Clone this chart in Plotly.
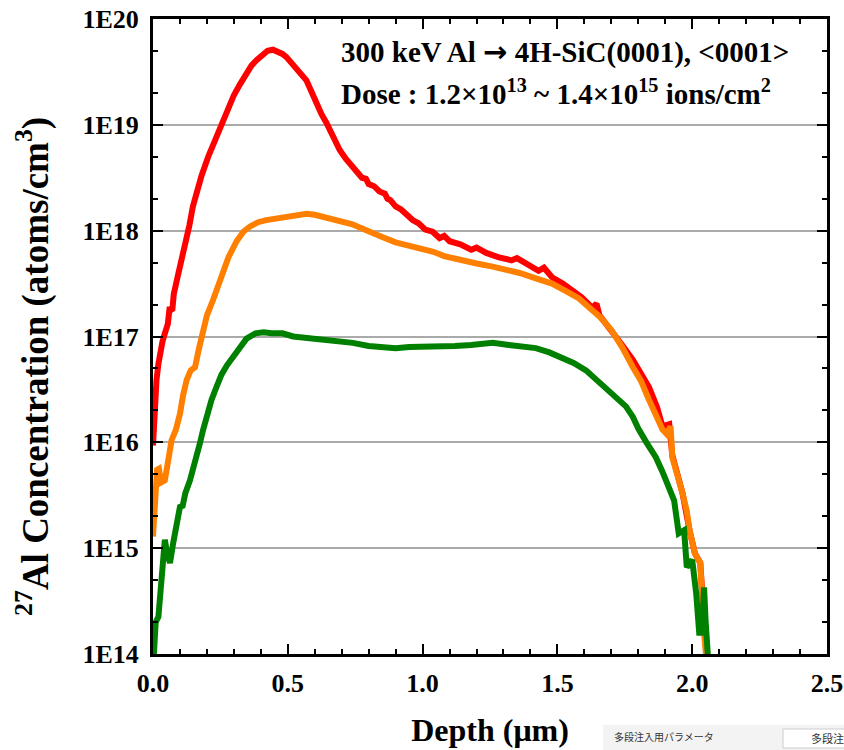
import plotly.graph_objects as go

# ---------------- data (depth in um, log10 concentration) ----------------
red_x = [0.000, 0.006, 0.013, 0.020, 0.026, 0.035, 0.044, 0.055, 0.062, 0.066, 0.072, 0.077, 0.090, 0.100,
         0.112, 0.125, 0.135, 0.148, 0.165, 0.180, 0.205, 0.230, 0.254, 0.280, 0.300, 0.322, 0.345,
         0.365, 0.384, 0.405, 0.425, 0.445, 0.465, 0.480, 0.495, 0.515, 0.535, 0.550, 0.569, 0.590,
         0.606, 0.625, 0.643, 0.665, 0.693, 0.715, 0.735, 0.754, 0.775, 0.790, 0.800, 0.820, 0.840, 0.860,
         0.870, 0.880, 0.900, 0.920, 0.940, 0.963, 0.985, 1.010, 1.037, 1.063, 1.080, 1.100, 1.140, 1.180,
         1.200, 1.236, 1.280, 1.330, 1.350, 1.384, 1.430, 1.450, 1.480, 1.520, 1.556, 1.590, 1.630, 1.645,
         1.656, 1.700, 1.740, 1.780, 1.810, 1.840, 1.870, 1.890, 1.915, 1.926, 1.945, 1.964, 1.990, 2.010,
         2.030, 2.044, 2.055]
red_log = [15.97, 16.35, 16.59, 16.74, 16.84, 16.95, 17.03, 17.12, 17.28, 17.25, 17.26, 17.40, 17.55, 17.65,
           17.79, 17.93, 18.05, 18.23, 18.40, 18.52, 18.70, 18.86, 19.00, 19.17, 19.28, 19.38, 19.48,
           19.56, 19.61, 19.66, 19.70, 19.71, 19.69, 19.67, 19.64, 19.58, 19.52, 19.48, 19.42, 19.30,
           19.20, 19.10, 19.02, 18.90, 18.76, 18.68, 18.62, 18.57, 18.50, 18.49, 18.44, 18.42, 18.37, 18.35,
           18.30, 18.29, 18.23, 18.20, 18.15, 18.10, 18.07, 18.01, 17.99, 17.93, 17.95, 17.90, 17.87, 17.82,
           17.84, 17.79, 17.75, 17.72, 17.74, 17.69, 17.62, 17.65, 17.56, 17.50, 17.44, 17.37, 17.27, 17.31,
           17.20, 17.06, 16.92, 16.78, 16.66, 16.52, 16.33, 16.15, 16.17, 15.88, 15.70, 15.52, 15.17, 14.95,
           14.86, 14.30, 13.90]

orange_x = [0.000, 0.007, 0.015, 0.022, 0.030, 0.044, 0.055, 0.069, 0.085, 0.100, 0.112, 0.125, 0.140,
            0.156, 0.170, 0.180, 0.200, 0.222, 0.250, 0.280, 0.310, 0.335, 0.360, 0.390, 0.420, 0.450,
            0.480, 0.510, 0.540, 0.570, 0.600, 0.630, 0.660, 0.700, 0.740, 0.767, 0.800, 0.850, 0.900,
            0.950, 1.000, 1.040, 1.080, 1.137, 1.200, 1.260, 1.300, 1.360, 1.420, 1.480, 1.530, 1.580,
            1.620, 1.656, 1.700, 1.740, 1.780, 1.810, 1.840, 1.865, 1.890, 1.905, 1.920, 1.926, 1.945,
            1.964, 1.980, 1.990, 2.010, 2.030, 2.044, 2.058]
orange_log = [15.11, 15.39, 15.74, 15.75, 15.62, 15.64, 15.80, 16.02, 16.12, 16.27, 16.45, 16.59, 16.68,
              16.71, 16.88, 17.00, 17.20, 17.34, 17.55, 17.75, 17.90, 17.99, 18.04, 18.08, 18.10, 18.11,
              18.13, 18.14, 18.15, 18.16, 18.15, 18.13, 18.12, 18.09, 18.06, 18.03, 17.99, 17.94, 17.89,
              17.86, 17.83, 17.80, 17.76, 17.72, 17.69, 17.66, 17.64, 17.60, 17.55, 17.50, 17.43, 17.36,
              17.27, 17.19, 17.06, 16.90, 16.71, 16.58, 16.40, 16.25, 16.12, 16.08, 16.15, 15.86, 15.70,
              15.52, 15.35, 15.17, 14.95, 14.86, 14.20, 13.80]

green_x = [0.000, 0.010, 0.020, 0.030, 0.038, 0.044, 0.052, 0.063, 0.075, 0.090, 0.100, 0.110, 0.120,
           0.137, 0.150, 0.165, 0.174, 0.186, 0.200, 0.217, 0.235, 0.254, 0.275, 0.297, 0.320, 0.347,
           0.380, 0.410, 0.440, 0.480, 0.520, 0.560, 0.593, 0.640, 0.690, 0.741, 0.800, 0.850, 0.900,
           0.950, 0.989, 1.050, 1.120, 1.180, 1.260, 1.320, 1.380, 1.420, 1.470, 1.510, 1.560, 1.606,
           1.640, 1.667, 1.700, 1.730, 1.754, 1.780, 1.800, 1.830, 1.865, 1.890, 1.908, 1.933, 1.950,
           1.970, 1.980, 2.000, 2.015, 2.026, 2.036, 2.044, 2.050, 2.063]
green_log = [13.85, 14.30, 14.35, 14.70, 15.00, 15.08, 14.95, 14.86, 15.05, 15.30, 15.39, 15.40, 15.52,
             15.64, 15.75, 15.92, 15.99, 16.12, 16.25, 16.40, 16.52, 16.64, 16.73, 16.81, 16.90, 16.98,
             17.03, 17.04, 17.03, 17.03, 17.00, 16.99, 16.98, 16.96, 16.95, 16.94, 16.91, 16.90, 16.89,
             16.90, 16.90, 16.90, 16.91, 16.92, 16.94, 16.92, 16.91, 16.89, 16.85, 16.81, 16.75, 16.68,
             16.60, 16.55, 16.47, 16.40, 16.34, 16.24, 16.13, 16.00, 15.86, 15.72, 15.59, 15.45, 15.14,
             15.17, 14.82, 14.89, 14.57, 14.20, 14.20, 14.63, 14.30, 13.80]

y_tick_vals = [1e14, 1e15, 1e16, 1e17, 1e18, 1e19, 1e20]
y_tick_text = ["1E14", "1E15", "1E16", "1E17", "1E18", "1E19", "1E20"]
x_tick_vals = [0.0, 0.5, 1.0, 1.5, 2.0, 2.5]
x_tick_text = ["0.0", "0.5", "1.0", "1.5", "2.0", "2.5"]

series = [
    (red_x, red_log, "#FF0000"),
    (orange_x, orange_log, "#FF8000"),
    (green_x, green_log, "#008000"),
]

FONT = "Liberation Serif, Times New Roman, serif"

W, H = 844, 750
ML, MR, MT, MB = 153, 17, 19, 96
PW, PH = W - ML - MR, H - MT - MB  # 674 x 635


def px(x):  # window pixel -> paper x
    return (x - ML) / PW


def py(y):  # window pixel -> paper y
    return 1 - (y - MT) / PH


fig = go.Figure()
for xs, ls, col in series:
    fig.add_trace(go.Scatter(
        x=xs, y=[10 ** v for v in ls], mode="lines",
        line=dict(color=col, width=6), showlegend=False, hoverinfo="skip"))

fig.update_layout(
    width=W, height=H,
    margin=dict(l=ML, r=MR, t=MT, b=MB),
    paper_bgcolor="white", plot_bgcolor="white",
    font=dict(family=FONT, color="black"),
)

fig.update_xaxes(
    range=[0, 2.5], tickvals=x_tick_vals, ticktext=["<b>%s</b>" % t for t in x_tick_text],
    tickfont=dict(family=FONT, size=26, color="black"),
    ticks="inside", ticklen=10, tickwidth=2, tickcolor="black",
    minor=dict(ticks="inside", ticklen=5, tickwidth=2, tickcolor="black", dtick=0.1),
    showline=True, linewidth=3, linecolor="black", mirror="allticks",
    showgrid=False, zeroline=False, automargin=False, ticklabelstandoff=4,
    ticklabeloverflow="allow",
    title=dict(text="<b>Depth (μm)</b>", font=dict(family=FONT, size=32, color="black"), standoff=22),
)
fig.update_yaxes(
    type="log", range=[14, 20], tickvals=y_tick_vals, ticktext=["<b>%s</b>" % t for t in y_tick_text],
    tickfont=dict(family=FONT, size=26, color="black"),
    ticks="inside", ticklen=10, tickwidth=2, tickcolor="black",
    minor=dict(ticks="inside", ticklen=5, tickwidth=2, tickcolor="black", showgrid=False),
    showline=True, linewidth=3, linecolor="black", mirror="allticks",
    showgrid=True, gridcolor="#AAAAAA", gridwidth=1.5, zeroline=False, automargin=False,
    ticklabelstandoff=6, ticklabeloverflow="allow",
)

# y-axis title (placed as annotation, slightly below the plot centre as in the reference)
fig.add_annotation(
    xref="paper", yref="paper", x=px(33), y=py(367), xanchor="center", yanchor="middle",
    textangle=-90, showarrow=False,
    text="<b><sup>27</sup>Al Concentration (atoms/cm<sup>3</sup>)</b>",
    font=dict(family=FONT, size=37, color="black"))

fig.add_annotation(
    xref="paper", yref="paper", x=px(339), y=py(52), xanchor="left", yanchor="middle",
    text="<b>300 keV Al <span style=\"font-family:'DejaVu Sans'\">→</span> 4H-SiC(0001), &lt;0001&gt;</b>",
    showarrow=False,
    font=dict(family=FONT, size=29, color="black"))
fig.add_annotation(
    xref="paper", yref="paper", x=px(339), y=py(92), xanchor="left", yanchor="middle",
    text="<b>Dose : 1.2×10<sup>13</sup> ~ 1.4×10<sup>15</sup> ions/cm<sup>2</sup></b>", showarrow=False,
    font=dict(family=FONT, size=29, color="black"))

# screenshot UI fragment at bottom right
fig.add_shape(type="rect", xref="paper", yref="paper",
              x0=px(603), x1=px(846), y0=py(752), y1=py(725),
              fillcolor="#F3F3F3", line=dict(width=0), layer="below")
fig.add_shape(type="rect", xref="paper", yref="paper",
              x0=px(783), x1=px(848), y0=py(748), y1=py(729),
              fillcolor="white", line=dict(color="#CCCCCC", width=1))
fig.add_annotation(xref="paper", yref="paper", x=px(612), y=py(737),
                   xanchor="left", yanchor="middle", showarrow=False,
                   text="多段注入用パラメータ",
                   font=dict(family="Noto Sans CJK JP", size=10, color="#333333"))
fig.add_annotation(xref="paper", yref="paper", x=px(809), y=py(738),
                   xanchor="left", yanchor="middle", showarrow=False,
                   text="多段注",
                   font=dict(family="Noto Sans CJK JP", size=11, color="#333333"))

fig.write_html(
    "out.html",
    config={"displayModeBar": False},
    post_script="document.body.style.margin='0';document.body.style.overflow='hidden';",
)
